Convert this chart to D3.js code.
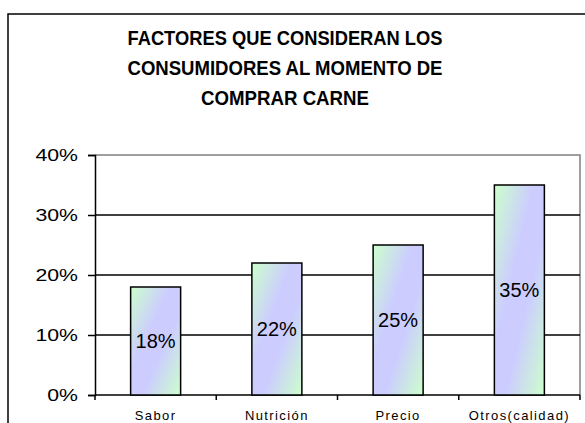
<!DOCTYPE html>
<html lang="es">
<head>
<meta charset="UTF-8">
<title>Factores al comprar carne</title>
<script src="https://cdn.jsdelivr.net/npm/d3@7"></script>
<style>
  body { margin: 0; background: #fff; }
  svg { display: block; font-family: "Liberation Sans", Arial, sans-serif; }
</style>
</head>
<body>
<svg width="585" height="423"></svg>
<script>
// chart data
const categories = ["Sabor", "Nutrición", "Precio", "Otros(calidad)"];
const values = [0.18, 0.22, 0.25, 0.35];
const yTicks = [0, 0.1, 0.2, 0.3, 0.4];
const titleLines = ["FACTORES QUE CONSIDERAN LOS", "CONSUMIDORES AL MOMENTO DE", "COMPRAR CARNE"];

const svg = d3.select("svg");

// plot area
const plotLeft = 95, plotRight = 580, plotTop = 155, plotBottom = 395;

// gradient for bars (green corners, lavender middle)
const grad = svg.append("defs").append("linearGradient")
    .attr("id", "barFill")
    .attr("x1", 0).attr("y1", 0).attr("x2", 1).attr("y2", 1);
grad.append("stop").attr("offset", "0").attr("stop-color", "#ccffcc");
grad.append("stop").attr("offset", "0.4").attr("stop-color", "#ccccff");
grad.append("stop").attr("offset", "0.6").attr("stop-color", "#ccccff");
grad.append("stop").attr("offset", "1").attr("stop-color", "#ccffcc");

// outer chart border (runs off the picture on right and bottom)
svg.append("rect")
    .attr("x", 8).attr("y", 14)
    .attr("width", 640).attr("height", 450)
    .attr("fill", "none")
    .attr("stroke", "#000")
    .attr("stroke-width", 1.5);

// title
svg.append("g").selectAll("text")
    .data(titleLines)
    .enter()
    .append("text")
    .attr("x", 285)
    .attr("y", (d, i) => 44.5 + i * 30.3)
    .attr("text-anchor", "middle")
    .attr("font-weight", "bold")
    .attr("font-size", "20px")
    .attr("textLength", (d, i) => [315, 315, 168][i])
    .attr("lengthAdjust", "spacingAndGlyphs")
    .text(d => d);

const x = d3.scaleBand().domain(categories).range([plotLeft, plotRight]);
const y = d3.scaleLinear().domain([0, 0.4]).range([plotBottom, plotTop]);

// plot frame, top and right in grey
svg.append("path")
    .attr("d", `M${plotLeft},${plotTop}H${plotRight}V${plotBottom}`)
    .attr("fill", "none")
    .attr("stroke", "#808080")
    .attr("stroke-width", 1.5);

// gridlines
svg.append("g").selectAll("line")
    .data(yTicks.filter(t => t > 0 && t < 0.4))
    .enter()
    .append("line")
    .attr("x1", plotLeft).attr("x2", plotRight)
    .attr("y1", d => y(d)).attr("y2", d => y(d))
    .attr("stroke", "#000")
    .attr("stroke-width", 1.5);

// y axis
const yAxis = svg.append("g")
    .attr("transform", `translate(${plotLeft},0)`)
    .call(d3.axisLeft(y).tickValues(yTicks).tickFormat(d3.format(".0%")).tickSize(7).tickPadding(10));
yAxis.select(".domain").attr("stroke-width", 1.5);
yAxis.selectAll(".tick line").attr("stroke-width", 1.5);
yAxis.selectAll("text")
    .attr("font-family", "Liberation Sans, Arial, sans-serif")
    .attr("font-size", "17px")
    .attr("fill", "#000")
    .each(function() {
        // labels in the picture are a bit wider than the font
        d3.select(this)
            .attr("textLength", this.getComputedTextLength() * 1.25)
            .attr("lengthAdjust", "spacingAndGlyphs");
    });

// x axis: ticks between categories
const xAxis = svg.append("g")
    .attr("transform", `translate(0,${plotBottom})`);
xAxis.append("line")
    .attr("x1", plotLeft).attr("x2", plotRight)
    .attr("stroke", "#000").attr("stroke-width", 1.5);
xAxis.selectAll(".sep")
    .data(categories.concat(["end"]))
    .enter()
    .append("line")
    .attr("class", "sep")
    .attr("x1", (d, i) => plotLeft + i * x.step())
    .attr("x2", (d, i) => plotLeft + i * x.step())
    .attr("y1", 0).attr("y2", 5)
    .attr("stroke", "#000").attr("stroke-width", 1.5);
xAxis.selectAll(".lbl")
    .data(categories)
    .enter()
    .append("text")
    .attr("class", "lbl")
    .attr("x", d => x(d) + x.bandwidth() / 2)
    .attr("y", 24.5)
    .attr("text-anchor", "middle")
    .attr("font-size", "13px")
    .attr("letter-spacing", "1.4px")
    .text(d => d);

// bars
const barW = 50;
svg.append("g").selectAll("rect")
    .data(values)
    .enter()
    .append("rect")
    .attr("x", (d, i) => x(categories[i]) + x.bandwidth() / 2 - barW / 2)
    .attr("y", d => y(d))
    .attr("width", barW)
    .attr("height", d => plotBottom - y(d))
    .attr("fill", "url(#barFill)")
    .attr("stroke", "#000")
    .attr("stroke-width", 1.5);

// value labels in the middle of each bar
svg.append("g").selectAll("text")
    .data(values)
    .enter()
    .append("text")
    .attr("x", (d, i) => x(categories[i]) + x.bandwidth() / 2)
    .attr("y", d => (y(d) + plotBottom) / 2)
    .attr("dy", "0.36em")
    .attr("text-anchor", "middle")
    .attr("font-size", "20px")
    .text(d => d3.format(".0%")(d));
</script>
</body>
</html>
